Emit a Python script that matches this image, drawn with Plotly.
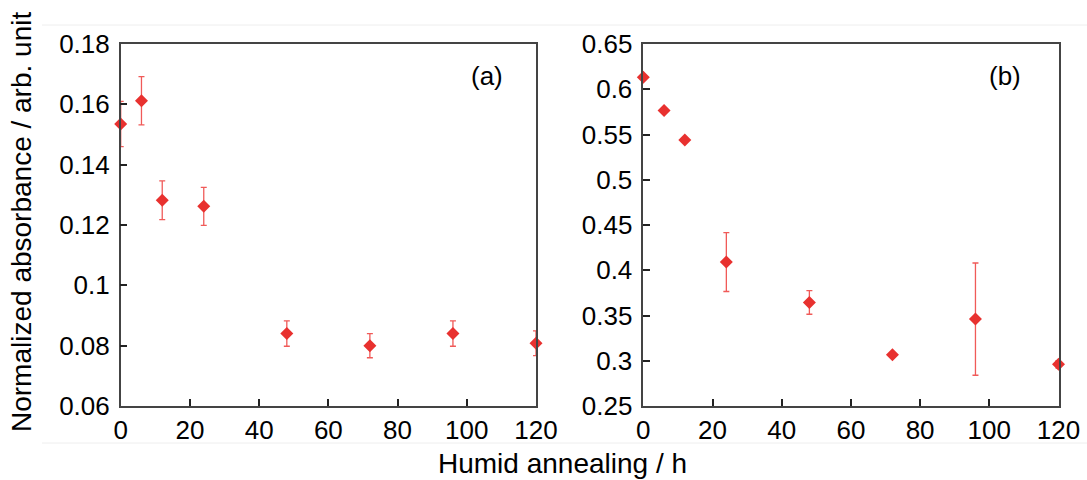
import plotly.graph_objects as go

# Data
hours = [0, 6, 12, 24, 48, 72, 96, 120]
abs_a = [0.1535, 0.1612, 0.1282, 0.1262, 0.0840, 0.0800, 0.0840, 0.0808]
err_a = [0.0075, 0.0080, 0.0064, 0.0063, 0.0042, 0.0040, 0.0042, 0.0041]
abs_b = [0.6132, 0.5764, 0.5440, 0.4090, 0.3644, 0.3066, 0.3460, 0.2960]
err_b = [0.0, 0.0, 0.0, 0.0325, 0.0130, 0.0, 0.0620, 0.0040]

y_ticks_a = [0.06, 0.08, 0.1, 0.12, 0.14, 0.16, 0.18]
y_ticktext_a = ["0.06", "0.08", "0.1", "0.12", "0.14", "0.16", "0.18"]
y_ticks_b = [0.25, 0.3, 0.35, 0.4, 0.45, 0.5, 0.55, 0.6, 0.65]
y_ticktext_b = ["0.25", "0.3", "0.35", "0.4", "0.45", "0.5", "0.55", "0.6", "0.65"]
x_ticks = [0, 20, 40, 60, 80, 100, 120]

MARKER = "#e8312f"
ERRC = "#f05a58"
FONT = "Liberation Sans, Arial, Helvetica, sans-serif"

fig = go.Figure()
fig.add_trace(go.Scatter(
    x=hours, y=abs_a, mode="markers", xaxis="x", yaxis="y",
    marker=dict(symbol="diamond", size=10, color=MARKER),
    error_y=dict(type="data", array=err_a, visible=True, color=ERRC, thickness=1.3, width=3),
    cliponaxis=False, showlegend=False))
fig.add_trace(go.Scatter(
    x=hours, y=abs_b, mode="markers", xaxis="x2", yaxis="y2",
    marker=dict(symbol="diamond", size=10, color=MARKER),
    error_y=dict(type="data", array=err_b, visible=True, color=ERRC, thickness=1.3, width=3),
    cliponaxis=False, showlegend=False))

W, H = 1087, 480
ax_common = dict(showline=True, linecolor="#444444", linewidth=1.5, mirror=True,
                 ticks="inside", ticklen=7, tickwidth=1.5, tickcolor="#222222",
                 showgrid=False, zeroline=False, automargin=False,
                 tickfont=dict(family=FONT, size=26, color="black"))

ytop = 1 - 44 / H
ybot = 1 - 406 / H

def ann(text, x, y, size, angle=0):
    return dict(text=text, x=x / W, y=1 - y / H, xref="paper", yref="paper",
                xanchor="center", yanchor="middle", showarrow=False, textangle=angle,
                font=dict(family=FONT, size=size, color="black"))

fig.update_layout(
    width=W, height=H,
    margin=dict(l=0, r=0, t=0, b=0, autoexpand=False),
    paper_bgcolor="white", plot_bgcolor="white",
    font=dict(family=FONT, color="black"),
    xaxis=dict(domain=[120.7 / W, 536 / W], range=[0, 120], tickvals=x_ticks,
               anchor="y", ticklabelstandoff=0, **ax_common),
    yaxis=dict(domain=[ybot, ytop], range=[0.06, 0.18], tickvals=y_ticks_a,
               ticktext=y_ticktext_a, anchor="x", ticklabelstandoff=4, **ax_common),
    xaxis2=dict(domain=[643.3 / W, 1058.5 / W], range=[0, 120], tickvals=x_ticks,
                anchor="y2", ticklabelstandoff=0, **ax_common),
    yaxis2=dict(domain=[ybot, ytop], range=[0.25, 0.65], tickvals=y_ticks_b,
                ticktext=y_ticktext_b, anchor="x2", ticklabelstandoff=4, **ax_common),
    annotations=[
        ann("(a)", 487, 76, 26),
        ann("(b)", 1005, 76, 26),
        ann("Normalized absorbance / arb. unit", 21, 222, 28, -90),
        ann("Humid annealing / h", 562, 463, 28),
    ],
    shapes=[
        dict(type="line", xref="paper", yref="paper", x0=42 / W, x1=1, y0=1 - 25 / H, y1=1 - 25 / H,
             line=dict(color="#eeeeee", width=1)),
        dict(type="line", xref="paper", yref="paper", x0=42 / W, x1=1, y0=1 - 443 / H, y1=1 - 443 / H,
             line=dict(color="#eeeeee", width=1)),
    ],
)

fig.write_html("out.html")
